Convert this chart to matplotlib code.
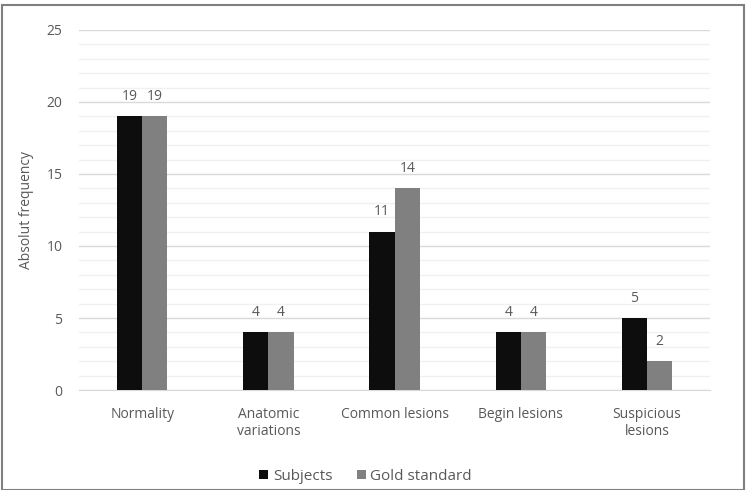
import numpy as np
import matplotlib.pyplot as plt
from matplotlib.patches import Rectangle

plt.rcParams['font.family'] = ['Open Sans', 'DejaVu Sans']

# data
categories = ['Normality', 'Anatomic\nvariations', 'Common lesions', 'Begin lesions', 'Suspicious\nlesions']
subjects = [19, 4, 11, 4, 5]
gold = [19, 4, 14, 4, 2]

txt = '#595959'
x = np.arange(len(categories))
w = 0.2

fig = plt.figure(figsize=(7.46, 4.90), dpi=100)
ax = fig.add_axes([0.106, 0.204, 0.846, 0.735])

b1 = ax.bar(x - w/2, subjects, w, color='#0d0d0d', label='Subjects', zorder=3)
b2 = ax.bar(x + w/2, gold, w, color='#808080', label='Gold standard', zorder=3)

for bars in (b1, b2):
    for r in bars:
        ax.annotate('%d' % r.get_height(), (r.get_x() + r.get_width()/2, r.get_height()),
                    xytext=(0, 9), textcoords='offset points',
                    ha='center', va='bottom', fontsize=10, color=txt)

ax.set_xlim(-0.5, 4.5)
ax.set_ylim(0, 25)
ax.set_yticks(range(0, 26, 5))
ax.set_yticks(range(0, 26), minor=True)
ax.grid(axis='y', which='major', color='#d9d9d9', lw=1, zorder=0)
ax.grid(axis='y', which='minor', color='#f0f0f0', lw=1, zorder=0)
ax.tick_params(axis='y', which='both', length=0, labelsize=10, labelcolor=txt, pad=12)
ax.set_xticks(x)
ax.set_xticklabels(categories, fontsize=10, color=txt, linespacing=1.25)
ax.tick_params(axis='x', length=0, pad=12)
for s in ['top', 'right', 'left']:
    ax.spines[s].set_visible(False)
ax.spines['bottom'].set_color('#d9d9d9')
ax.set_ylabel('Absolut frequency', fontsize=10, color=txt, labelpad=9)

fig.legend(handles=[b1, b2], loc='center', bbox_to_anchor=(0.49, 0.028), ncol=2,
           frameon=False, fontsize=11, labelcolor=txt, handlelength=0.6, handleheight=0.6,
           handletextpad=0.3, columnspacing=1.6)

fig.patches.append(Rectangle((0.003, 0.0), 0.994, 0.99, transform=fig.transFigure,
                             fill=False, edgecolor='#7f7f7f', lw=1.5))

fig.savefig('out.png', dpi=100)
